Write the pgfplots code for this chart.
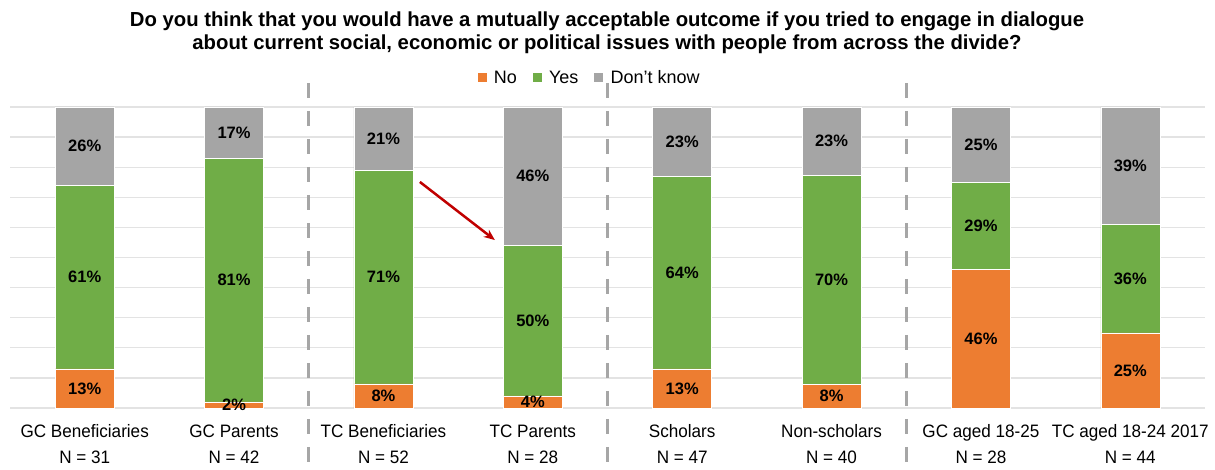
\documentclass[border=0pt]{standalone}
\usepackage{pgfplots}
\pgfplotsset{compat=1.18}
\usepackage{fontspec}
\setmainfont{Liberation Sans}
\newfontfamily\condfont[FakeStretch=0.95]{Liberation Sans}
\usetikzlibrary{arrows.meta}
\definecolor{cNo}{HTML}{ED7D31}
\definecolor{cYes}{HTML}{70AD47}
\definecolor{cDK}{HTML}{A5A5A5}
\definecolor{cGrid}{HTML}{E3E3E3}
\definecolor{cSep}{HTML}{A6A6A6}
\definecolor{cArrow}{HTML}{C00000}
\pgfplotsset{
  common/.style={
    at={(0,0)}, anchor=south west,
    scale only axis, width=1195bp, height=301bp,
    xmin=-0.5, xmax=7.5, ymin=0, ymax=100,
  }
}
\begin{document}
\begin{tikzpicture}
\begin{axis}[
  common,
  ybar stacked, bar width=59bp,
  xtick={0,1,2,3,4,5,6,7},
  xticklabels={{GC Beneficiaries\\N = 31},{GC Parents\\N = 42},{TC Beneficiaries\\N = 52},{TC Parents\\N = 28},{Scholars\\N = 47},{Non-scholars\\N = 40},{GC aged 18-25\\N = 28},{TC aged 18-24 2017\\N = 44}},
  xticklabel style={font=\condfont\fontsize{18bp}{26bp}\selectfont, align=center, yshift=-13bp},
  ytick={0,10,...,100}, yticklabels={},
  ymajorgrids, grid style={draw=cGrid, line width=1.2bp},
  axis line style={draw=none}, major tick style={draw=none},
  legend style={at={(0.485,1.097)}, anchor=center, legend columns=-1, draw=none, fill=none,
    font=\fontsize{18bp}{20bp}\selectfont,
    /tikz/every even column/.append style={column sep=14bp}},
  legend image code/.code={\fill[#1, draw=none] (0bp,-4.5bp) rectangle (9bp,4.5bp); \path (14bp,0bp);},
]
% bar heights as drawn in the 100% chart (Non-scholars: 8/70/23 of 101, scaled to 100)
\addplot[fill=cNo, draw=white, line width=0.5bp] coordinates {(0,13) (1,2) (2,8) (3,4) (4,13) (5,7.92) (6,46) (7,25)};
\addlegendentry{No}
\addplot[fill=cYes, draw=white, line width=0.5bp] coordinates {(0,61) (1,81) (2,71) (3,50) (4,64) (5,69.31) (6,29) (7,36)};
\addlegendentry{Yes}
\addplot[fill=cDK, draw=white, line width=0.5bp] coordinates {(0,26) (1,17) (2,21) (3,46) (4,23) (5,22.77) (6,25) (7,39)};
\addlegendentry{Don’t know}
\coordinate (s1t) at (axis cs:1.5,108);
\coordinate (s1b) at (axis cs:1.5,-21);
\coordinate (s2t) at (axis cs:3.5,108);
\coordinate (s2b) at (axis cs:3.5,-21);
\coordinate (s3t) at (axis cs:5.5,108);
\coordinate (s3b) at (axis cs:5.5,-21);
\coordinate (a1) at (axis cs:2.244,75.1);
\coordinate (a2) at (axis cs:2.746,55.8);
\end{axis}
% data labels, centred in each segment
\begin{axis}[
  common, hide axis, clip=false,
  nodes near coords={\pgfplotspointmeta\%},
  point meta=explicit symbolic,
  nodes near coords style={font=\bfseries\fontsize{16.5bp}{20bp}\selectfont, anchor=center, text=black},
]
\addplot[only marks, mark=none] coordinates {
  (0,6.5) [13] (1,1) [2] (2,4) [8] (3,2) [4] (4,6.5) [13] (5,4) [8] (6,23) [46] (7,12.5) [25]};
\addplot[only marks, mark=none] coordinates {
  (0,43.5) [61] (1,42.5) [81] (2,43.5) [71] (3,29) [50] (4,45) [64] (5,42.6) [70] (6,60.5) [29] (7,43) [36]};
\addplot[only marks, mark=none] coordinates {
  (0,87) [26] (1,91.5) [17] (2,89.5) [21] (3,77) [46] (4,88.5) [23] (5,88.6) [23] (6,87.5) [25] (7,80.5) [39]};
\end{axis}
\foreach \t/\b in {s1t/s1b,s2t/s2b,s3t/s3b}
  \draw[cSep, line width=3bp, dash pattern=on 15bp off 13bp] (\t) -- (\b);
\draw[cArrow, line width=2.5bp, -{Stealth[length=11bp,width=9bp]}] (a1) -- (a2);
\node[font=\bfseries\fontsize{20.3bp}{23bp}\selectfont, align=center] at (597bp,375bp)
  {Do you think that you would have a mutually acceptable outcome if you tried to engage in dialogue\\about current social, economic or political issues with people from across the divide?};
\pgfresetboundingbox
\path[use as bounding box] (-10bp,-62bp) rectangle (1205bp,408bp);
\end{tikzpicture}
\end{document}
